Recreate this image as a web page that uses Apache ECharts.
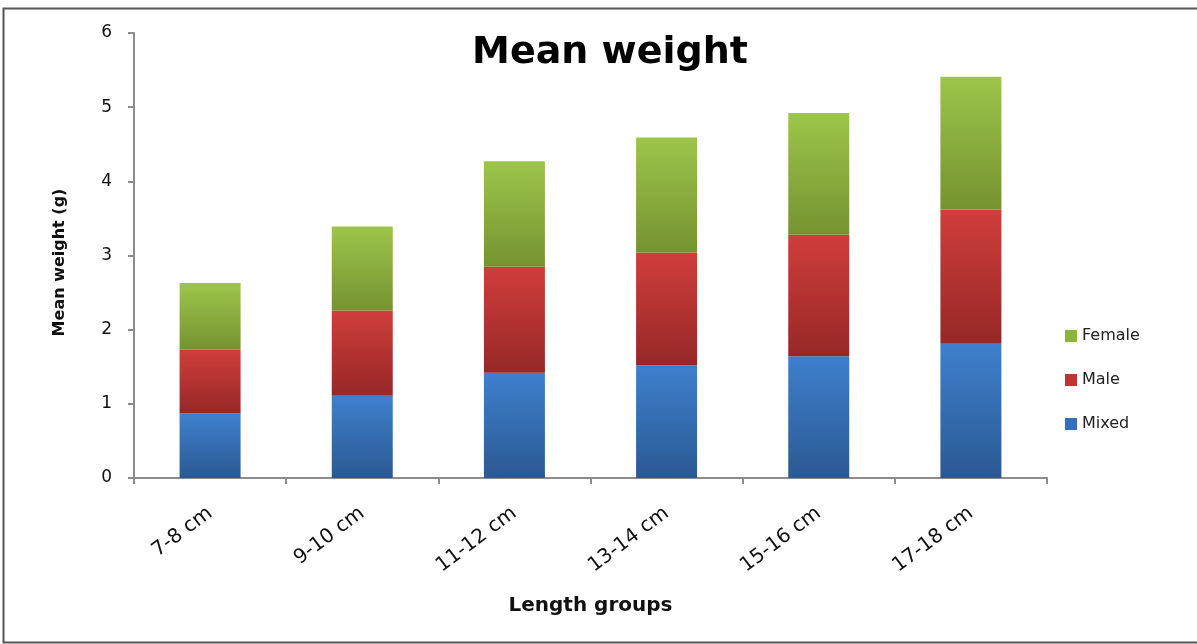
<!DOCTYPE html>
<html>
<head>
<meta charset="utf-8">
<script src="https://cdn.jsdelivr.net/npm/echarts@6/dist/echarts.min.js"></script>
<style>
  html, body { margin: 0; padding: 0; background: #fff; }
  #chart { width: 1197px; height: 644px; }
</style>
</head>
<body>
<div id="chart"></div>
<script>
// Length groups on the x axis
const categories = ['7-8 cm', '9-10 cm', '11-12 cm', '13-14 cm', '15-16 cm', '17-18 cm'];
// Mean weight (g) per group, stacked Mixed -> Male -> Female
const mixed  = [0.87, 1.11, 1.42, 1.52, 1.64, 1.81];
const male   = [0.86, 1.15, 1.43, 1.52, 1.64, 1.81];
const female = [0.90, 1.13, 1.42, 1.55, 1.64, 1.79];

function grad(top, bottom) {
  return new echarts.graphic.LinearGradient(0, 0, 0, 1, [
    { offset: 0, color: top },
    { offset: 1, color: bottom }
  ]);
}

const chart = echarts.init(document.getElementById('chart'), null, { renderer: 'canvas' });

const wideFont = '"DejaVu Sans", Verdana, sans-serif';

chart.setOption({
  backgroundColor: '#fff',
  animation: false,
  title: {
    text: 'Mean weight',
    left: 605,
    top: 29,
    textAlign: 'center',
    textStyle: { fontFamily: wideFont, fontWeight: 'bold', fontSize: 38, color: '#000' }
  },
  graphic: [{
    type: 'rect',
    shape: { x: 3.5, y: 8.5, width: 1200, height: 634 },
    style: { fill: 'none', stroke: '#555', lineWidth: 2 },
    silent: true
  }],
  legend: {
    orient: 'vertical',
    left: 1060,
    top: 323,
    itemWidth: 12,
    itemHeight: 12,
    itemGap: 28,
    icon: 'rect',
    textStyle: { fontFamily: wideFont, fontSize: 16, color: '#222' },
    data: [
      { name: 'Female', itemStyle: { color: '#8db43e' } },
      { name: 'Male', itemStyle: { color: '#be3633' } },
      { name: 'Mixed', itemStyle: { color: '#3670b8' } }
    ]
  },
  grid: { left: 134, right: 150, top: 33, bottom: 166 },
  xAxis: {
    type: 'category',
    data: categories,
    name: 'Length groups',
    nameLocation: 'middle',
    nameGap: 118,
    nameTextStyle: { fontFamily: wideFont, fontWeight: 'bold', fontSize: 20, color: '#111' },
    axisLine: { lineStyle: { color: '#8c8c8c', width: 2 } },
    axisTick: { show: true, alignWithLabel: false, length: 6, lineStyle: { color: '#8c8c8c', width: 2 } },
    axisLabel: { rotate: 37, margin: 33, fontFamily: wideFont, fontSize: 20, color: '#111' }
  },
  yAxis: {
    type: 'value',
    min: 0,
    max: 6,
    interval: 1,
    name: 'Mean weight (g)',
    nameLocation: 'middle',
    nameGap: 66,
    nameTextStyle: { fontFamily: wideFont, fontWeight: 'bold', fontSize: 16, color: '#111', padding: [0, 14, 0, 0] },
    splitLine: { show: false },
    axisLine: { show: true, lineStyle: { color: '#8c8c8c', width: 2 } },
    axisTick: { show: true, length: 6, lineStyle: { color: '#8c8c8c', width: 2 } },
    axisLabel: { margin: 22, fontFamily: wideFont, fontSize: 17, color: '#111' }
  },
  series: [
    {
      name: 'Mixed', type: 'bar', stack: 'w', data: mixed, barWidth: 61,
      itemStyle: { color: grad('#3e80cd', '#2b5992') }
    },
    {
      name: 'Male', type: 'bar', stack: 'w', data: male, barWidth: 61,
      itemStyle: { color: grad('#d03e3b', '#962827') }
    },
    {
      name: 'Female', type: 'bar', stack: 'w', data: female, barWidth: 61,
      itemStyle: { color: grad('#9dc54b', '#759330') }
    }
  ]
});
</script>
</body>
</html>
